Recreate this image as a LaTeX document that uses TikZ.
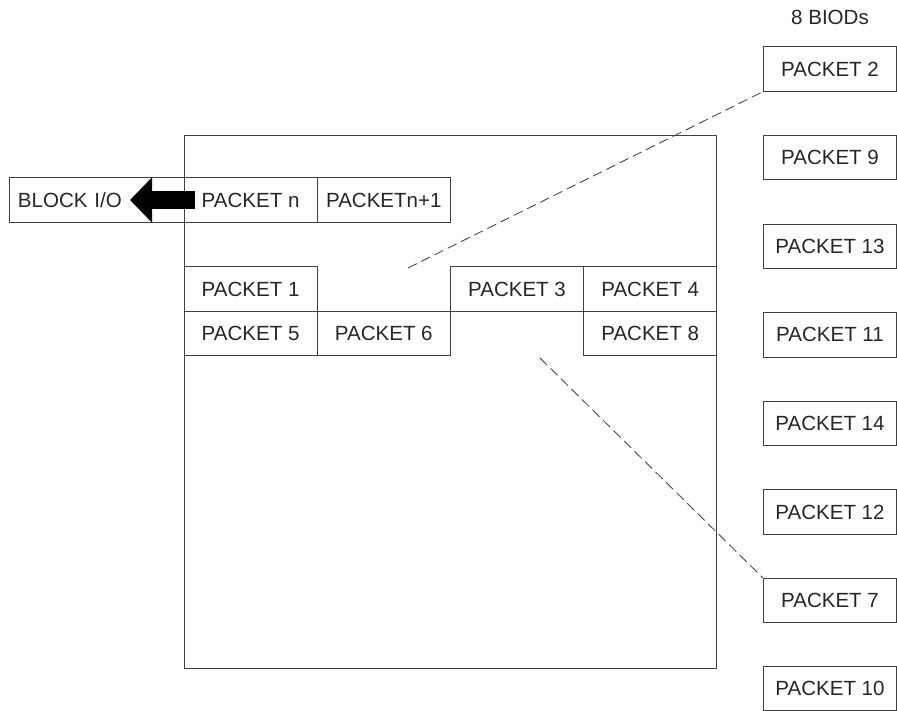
\documentclass[tikz,border=0pt]{standalone}
\usepackage{fontspec}
\setmainfont{Liberation Sans}
\usetikzlibrary{arrows.meta}

\begin{document}
\begin{tikzpicture}[x=0.025cm, y=-0.025cm,
    pkt/.style={draw=black!75, line width=0.6pt, minimum width=3.33cm, minimum height=1.1125cm,
        inner sep=0pt, text=black!85, font=\fontsize{14.6}{17}\selectfont},
    link/.style={draw=black!75, line width=0.6pt, dash pattern=on 7pt off 3.5pt}]
    \useasboundingbox (0,0) rectangle (897,711);

    % buffer
    \node[pkt, minimum width=13.3cm, minimum height=13.325cm] (buffer) at (450,401.5) {};

    % packets waiting for block i/o
    \node[pkt, minimum width=4.375cm, text width=3.925cm, inner xsep=0.225cm, align=left] (blockio) at (96.5,200) {BLOCK I/O};
    \node[pkt] (pktn) at (250.6,200) {PACKET n};
    \node[pkt] (pktnn) at (383.8,200) {PACKETn+1};

    % packets in the buffer
    \node[pkt] (p1) at (250.6,289) {PACKET 1};
    \node[pkt] (p3) at (517,289) {PACKET 3};
    \node[pkt] (p4) at (650.2,289) {PACKET 4};
    \node[pkt] (p5) at (250.6,333.5) {PACKET 5};
    \node[pkt] (p6) at (383.8,333.5) {PACKET 6};
    \node[pkt] (p8) at (650.2,333.5) {PACKET 8};

    % biods
    \node[text=black!85, font=\fontsize{14.6}{17}\selectfont] (biods) at (830,17) {8 BIODs};
    \node[pkt] (p2) at (830,69) {PACKET 2};
    \node[pkt] (p9) at (830,157.6) {PACKET 9};
    \node[pkt] (p13) at (830,246.2) {PACKET 13};
    \node[pkt] (p11) at (830,334.8) {PACKET 11};
    \node[pkt] (p14) at (830,423.4) {PACKET 14};
    \node[pkt] (p12) at (830,512) {PACKET 12};
    \node[pkt] (p7) at (830,600.6) {PACKET 7};
    \node[pkt] (p10) at (830,688.5) {PACKET 10};

    % out to block i/o
    \coordinate (iotip) at (130,200);
    \draw[line width=0.45cm, -{Triangle[length=0.55cm, width=1.1cm]}] ([xshift=0.275cm]pktn.west) -- (iotip);

    % empty slots
    \coordinate (slot2) at (408,268);
    \coordinate (slot7) at (540,358);
    \draw[link] (slot2) -- (p2.south west);
    \draw[link] (slot7) -- (p7.north west);
\end{tikzpicture}
\end{document}
